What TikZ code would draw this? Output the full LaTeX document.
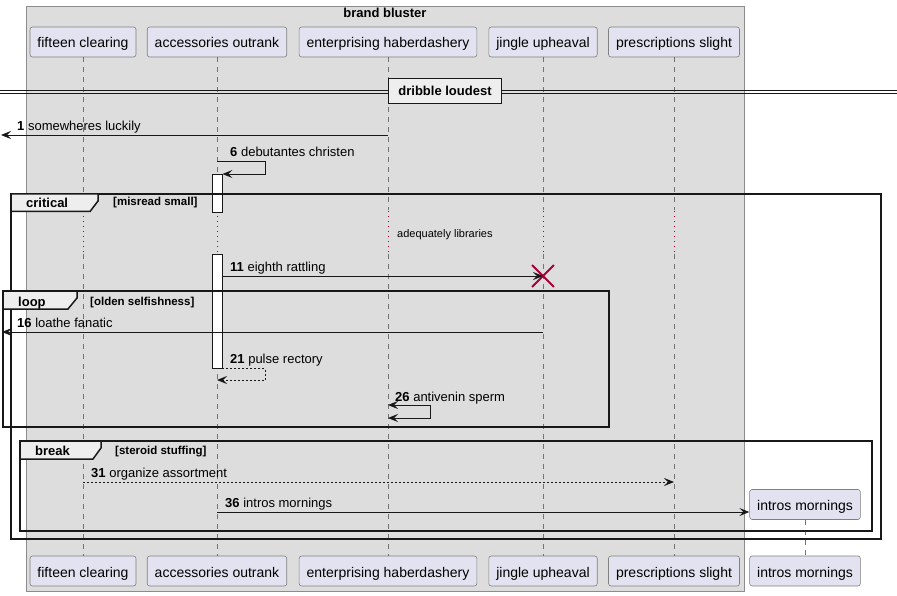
\documentclass[tikz,border=0pt]{standalone}
\usepackage{fontspec}
\setmainfont{Liberation Sans}
\usetikzlibrary{arrows.meta, shapes.misc}
\definecolor{boxgray}{HTML}{DDDDDD}
\definecolor{partfill}{HTML}{E2E2F0}
\definecolor{tabfill}{HTML}{EEEEEE}
\definecolor{delayred}{HTML}{A80036}
\definecolor{linedark}{HTML}{181818}

\begin{document}
\begin{tikzpicture}[x=1pt, y=-1pt,
    every node/.style={font=\fontsize{13}{15}\selectfont, inner sep=0pt},
    part/.style={draw=black!50, fill=partfill, rounded corners=2.5pt, line width=0.6pt, minimum height=30pt, inner xsep=7.5pt, text height=12pt, text depth=0pt, font=\fontsize{14}{16}\selectfont},
    life/.style={draw=black!55, line width=0.6pt, dash pattern=on 5pt off 5pt},
    delay/.style={draw=delayred, line width=0.8pt, dash pattern=on 1pt off 4pt},
    msg/.style={draw=linedark, line width=0.9pt, -{Stealth[length=10pt, width=8pt, inset=4pt]}},
    bimsg/.style={draw=linedark, line width=0.9pt, {Stealth[length=10pt, width=8pt, inset=4pt]}-{Stealth[length=10pt, width=8pt, inset=4pt]}},
    ret/.style={msg, dash pattern=on 2pt off 2pt},
    lbl/.style={anchor=base west},
    actbar/.style={draw=linedark, fill=white, line width=0.8pt, minimum width=10pt, anchor=north},
    grp/.style={draw=linedark, line width=1.5pt},
    tabshape/.style={draw=linedark, fill=tabfill, line width=1.5pt},
    grplabel/.style={anchor=base west, font=\bfseries\fontsize{13}{15}\selectfont},
    guard/.style={anchor=base west, font=\bfseries\fontsize{11.5}{13}\selectfont}]
    \useasboundingbox (0,0) rectangle (897,596);

    % Box
    \draw[draw=black!45, fill=boxgray, line width=0.6pt] (26,6) rectangle (744,591);
    \node[anchor=base, font=\bfseries\fontsize{13}{15}\selectfont] (box-title) at (385,18) {brand bluster};

    % Participants
    \node[part] (fc) at (83,42) {fifteen clearing};
    \node[part] (ao) at (217,42) {accessories outrank};
    \node[part] (eh) at (388,42) {enterprising haberdashery};
    \node[part] (ju) at (543,42) {jingle upheaval};
    \node[part] (ps) at (674,42) {prescriptions slight};
    \node[part] (im) at (805,504.5) {intros mornings};

    \node[part] (fc-b) at (83,571) {fifteen clearing};
    \node[part] (ao-b) at (217,571) {accessories outrank};
    \node[part] (eh-b) at (388,571) {enterprising haberdashery};
    \node[part] (ju-b) at (543,571) {jingle upheaval};
    \node[part] (ps-b) at (674,571) {prescriptions slight};
    \node[part] (im-b) at (805,571) {intros mornings};

    % Lifelines
    \draw[life] (fc.south) -- (fc |- 0,210) (fc |- 0,254) -- (fc-b.north);
    \draw[life] (ao.south) -- (ao |- 0,210) (ao |- 0,254) -- (ao-b.north);
    \draw[life] (eh.south) -- (eh |- 0,210) (eh |- 0,254) -- (eh-b.north);
    \draw[life] (ju.south) -- (ju |- 0,210) (ju |- 0,254) -- (ju-b.north);
    \draw[life] (ps.south) -- (ps |- 0,210) (ps |- 0,254) -- (ps-b.north);
    \draw[life] (im.south) -- (im-b.north);

    % Delay
    \draw[delay] (fc |- 0,211) -- (fc |- 0,254);
    \draw[delay] (ao |- 0,211) -- (ao |- 0,254);
    \draw[delay] (eh |- 0,211) -- (eh |- 0,254);
    \draw[delay] (ju |- 0,211) -- (ju |- 0,254);
    \draw[delay] (ps |- 0,211) -- (ps |- 0,254);
    \node[lbl, font=\fontsize{11}{13}\selectfont] (delay-label) at (397,237) {adequately libraries};

    % Divider
    \draw[linedark, line width=0.9pt] (0,90) -- (897,90) (0,93.3) -- (897,93.3);
    \node[draw=linedark, fill=tabfill, line width=1.5pt, minimum width=113pt, minimum height=25pt, font=\bfseries\fontsize{13}{15}\selectfont] (div) at (445,91) {dribble loudest};

    % Activations
    \node[actbar, minimum height=38pt] (act1) at (217,174) {};
    \node[actbar, minimum height=114pt] (act2) at (217,254) {};

    % Message 1
    \coordinate (m1-end) at (1,135);
    \draw[msg] (eh |- m1-end) -- (m1-end);
    \node[lbl] (m1-label) at (17,131) {\textbf{1} somewheres luckily};

    % Message 6
    \draw[msg] (ao |- 0,161) -- ++(48,0) |- (act1.north east);
    \node[lbl] (m6-label) at (230,157) {\textbf{6} debutantes christen};

    % Critical
    \draw[grp] (11,194) rectangle (881,539);
    \draw[tabshape] (11,194) -- (98,194) -- (98,201) -- (90,211.5) -- (11,211.5) -- cycle;
    \node[grplabel] (crit-label) at (26,208) {critical};
    \node[guard] (crit-guard) at (113,206) {[misread small]};

    % Message 11
    \node[draw=delayred, cross out, line width=1.8pt, minimum size=20pt] (ju-x) at (ju |- 0,276) {};
    \draw[msg] (act2.east |- ju-x) -- (ju-x.center);
    \node[lbl] (m11-label) at (230,272) {\textbf{11} eighth rattling};

    % Loop
    \draw[grp] (3,291) rectangle (609,427);
    \draw[tabshape] (3,291) -- (77,291) -- (77,298) -- (68,309) -- (3,309) -- cycle;
    \node[grplabel] (loop-label) at (18,306) {loop};
    \node[guard] (loop-guard) at (90,305) {[olden selfishness]};

    % Message 16
    \coordinate (m16-end) at (2,332);
    \draw[msg] (ju |- m16-end) -- (m16-end);
    \node[lbl] (m16-label) at (17,327) {\textbf{16} loathe fanatic};

    % Message 21
    \draw[ret] (act2.south east) -- ++(43,0) |- (ao |- 0,380);
    \node[lbl] (m21-label) at (230,363) {\textbf{21} pulse rectory};

    % Message 26
    \draw[bimsg] (eh |- 0,405) -- ++(42,0) |- (eh |- 0,418);
    \node[lbl] (m26-label) at (395,401) {\textbf{26} antivenin sperm};

    % Break
    \draw[grp] (20,441) rectangle (872,531);
    \draw[tabshape] (20,441) -- (101,441) -- (101,448) -- (93,459) -- (20,459) -- cycle;
    \node[grplabel] (break-label) at (35,455) {break};
    \node[guard] (break-guard) at (115,454) {[steroid stuffing]};

    % Message 31
    \draw[ret] (fc |- 0,482) -- (ps |- 0,482);
    \node[lbl] (m31-label) at (91,477) {\textbf{31} organize assortment};

    % Message 36
    \draw[msg] (ao |- 0,512) -- (im.west |- 0,512);
    \node[lbl] (m36-label) at (225,507) {\textbf{36} intros mornings};
\end{tikzpicture}
\end{document}
